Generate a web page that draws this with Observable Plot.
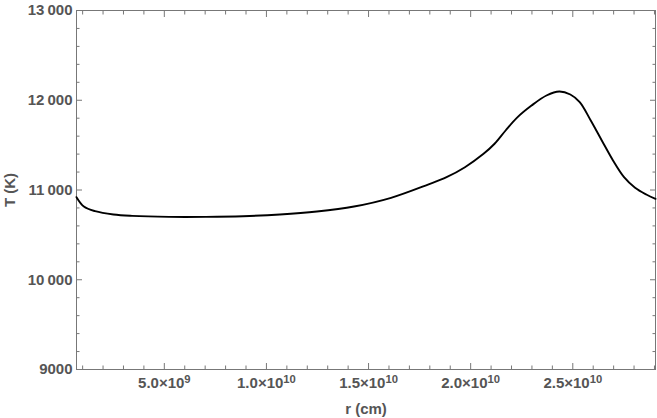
<!DOCTYPE html>
<html>
<head>
<meta charset="utf-8">
<script src="https://cdn.jsdelivr.net/npm/d3@7"></script>
<script src="https://cdn.jsdelivr.net/npm/@observablehq/plot@0.6"></script>
<style>
  html, body { margin: 0; padding: 0; background: #fff; }
</style>
</head>
<body>
<div id="chart"></div>
<script>
// Radius (cm) and temperature (K)
const rValues = [0.70e9, 1.06e9, 1.61e9, 2.51e9, 3.42e9, 5.23e9, 7.04e9, 8.85e9, 10.66e9, 12.47e9,
  14.29e9, 16.10e9, 17.91e9, 18.82e9, 19.72e9, 20.63e9, 21.17e9, 21.71e9, 22.26e9, 22.98e9,
  23.71e9, 24.34e9, 24.88e9, 25.34e9, 25.88e9, 26.42e9, 26.97e9, 27.51e9, 28.05e9, 28.60e9, 29.05e9];
const tValues = [10920, 10816, 10764, 10727, 10712, 10701, 10701, 10708, 10727, 10760,
  10816, 10913, 11061, 11143, 11254, 11403, 11515, 11663, 11804, 11941,
  12053, 12098, 12064, 11979, 11774, 11552, 11329, 11143, 11025, 10950, 10902];

const xDomain = [0.7e9, 2.905e10];
const yDomain = [9000, 13000];
const xMajorTicks = [5e9, 1e10, 1.5e10, 2e10, 2.5e10];
const xMajorLabels = ["5.0×10|9", "1.0×10|10", "1.5×10|10", "2.0×10|10", "2.5×10|10"];
const xMinorTicks = d3.range(1, 30).map(k => k * 1e9).filter(v => v % 5e9 !== 0);
const yMajorTicks = [9000, 10000, 11000, 12000, 13000];
const yMajorLabels = ["9000", "10\u2009000", "11\u2009000", "12\u2009000", "13\u2009000"];
const yMinorTicks = d3.range(9000, 13001, 200).filter(v => v % 1000 !== 0);

const data = rValues.map((r, i) => ({r, T: tValues[i]}));
const tickStroke = "#777";

const xLabelOf = v => xMajorLabels[xMajorTicks.indexOf(v)];
const yLabelOf = v => yMajorLabels[yMajorTicks.indexOf(v)];

const plot = Plot.plot({
  width: 657,
  height: 418,
  marginLeft: 76,
  marginRight: 2,
  marginTop: 10,
  marginBottom: 49,
  style: {fontFamily: "'Liberation Sans', Arial, sans-serif", fontSize: "15px", fontWeight: "bold", color: "#555", background: "#fff"},
  x: {domain: xDomain},
  y: {domain: yDomain},
  marks: [
    // tick marks inside the frame (all four sides)
    Plot.axisX(xMajorTicks, {anchor: "bottom", tickSize: -6, tickFormat: () => "", label: null, stroke: tickStroke}),
    Plot.axisX(xMinorTicks, {anchor: "bottom", tickSize: -3.5, tickFormat: () => "", label: null, stroke: tickStroke}),
    Plot.axisX(xMajorTicks, {anchor: "top", tickSize: -6, tickFormat: () => "", label: null, stroke: tickStroke}),
    Plot.axisX(xMinorTicks, {anchor: "top", tickSize: -3.5, tickFormat: () => "", label: null, stroke: tickStroke}),
    Plot.axisY(yMajorTicks, {anchor: "left", tickSize: -6, tickFormat: () => "", label: null, stroke: tickStroke}),
    Plot.axisY(yMinorTicks, {anchor: "left", tickSize: -3.5, tickFormat: () => "", label: null, stroke: tickStroke}),
    Plot.axisY(yMajorTicks, {anchor: "right", tickSize: -6, tickFormat: () => "", label: null, stroke: tickStroke}),
    Plot.axisY(yMinorTicks, {anchor: "right", tickSize: -3.5, tickFormat: () => "", label: null, stroke: tickStroke}),
    // labelled axes
    Plot.axisX(xMajorTicks, {anchor: "bottom", tickSize: 0, tickPadding: 8, tickFormat: xLabelOf,
      label: "r (cm)", labelAnchor: "center", labelArrow: "none", labelOffset: 44}),
    Plot.axisY(yMajorTicks, {anchor: "left", tickSize: 0, tickPadding: 4, tickFormat: yLabelOf,
      label: "T (K)", labelAnchor: "center", labelArrow: "none", labelOffset: 72}),
    Plot.frame({stroke: tickStroke}),
    Plot.line(data, {x: "r", y: "T", stroke: "#000", strokeWidth: 1.9, curve: "catmull-rom"})
  ]
});

// render the exponents as superscripts
d3.select(plot).selectAll('g[aria-label="x-axis tick label"] text').each(function () {
  const s = this.textContent;
  if (!s.includes("|")) return;
  const [base, exp] = s.split("|");
  const t = d3.select(this);
  t.text(null);
  t.append("tspan").text(base);
  t.append("tspan").attr("dy", "-0.45em").attr("font-size", "0.75em").text(exp);
});

document.getElementById("chart").appendChild(plot);
</script>
</body>
</html>
